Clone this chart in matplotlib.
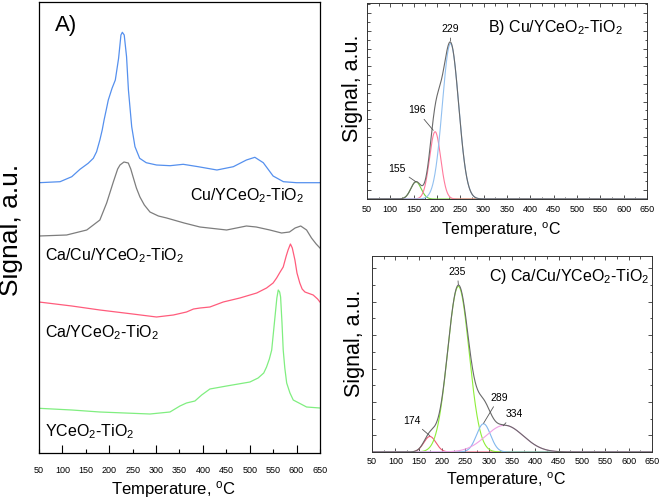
import numpy as np
import matplotlib
matplotlib.use('Agg')
import matplotlib.pyplot as plt
from matplotlib.ticker import MultipleLocator, FixedLocator, FormatStrFormatter

plt.rcParams['font.family'] = ['Liberation Sans', 'DejaVu Sans']
plt.rcParams['mathtext.fontset'] = 'custom'
plt.rcParams['mathtext.rm'] = 'Liberation Sans'
plt.rcParams['mathtext.it'] = 'Liberation Sans:italic'
plt.rcParams['mathtext.bf'] = 'Liberation Sans:bold'

# ---------------- Panel A data (stacked TPR profiles, offset a.u.) ----------------
temp_cu = [50, 95, 120, 137.5, 155, 166, 173, 180, 185, 189, 194, 198, 206, 213, 220,
           225, 228, 232, 237, 241, 248, 255, 265, 279, 301, 330, 358, 390, 430, 465,
           493, 511, 529, 550, 572, 600, 650]
sig_cu = [270.3, 271.3, 276.3, 283.7, 289.7, 294.7, 301.3, 313, 323, 333, 344, 353,
          364.7, 373, 394.7, 418, 420.7, 418, 396.3, 363, 326.3, 306.3, 294.7, 290.3,
          288, 287.3, 288.7, 286.3, 283, 286.3, 293, 295.7, 290.3, 277, 271.3, 270.3,
          270.3]

temp_cacu = [50, 109, 152, 180, 194.5, 208.7, 218, 223, 231.5, 240.7, 246, 251, 258,
             265.6, 275, 287, 305, 322.6, 360, 393.7, 450.7, 493, 514, 543, 568, 585,
             597, 609, 621.5, 632, 642, 650]
sig_cacu = [217, 218, 223, 233, 250, 271, 284, 288, 291, 290, 284, 276, 265, 256, 248,
            241, 237, 235, 230, 226, 223, 227, 226, 223, 220, 221, 225, 227, 223, 215,
            209, 205]

temp_ca = [50, 120, 180, 250, 301, 337, 365, 380, 394, 415, 443.5, 479, 515, 536, 550,
           557.5, 565, 571.6, 578, 582, 587, 591, 596.6, 601, 607, 612, 618, 635.6, 645, 650]
sig_ca = [151, 147, 143, 139, 136, 138, 141, 144, 145, 146, 151, 155, 160, 165, 170, 175,
          181, 186, 197, 203, 209, 205, 193, 180, 170, 164, 161, 158, 154, 151]

temp_y = [50, 120, 180, 287, 329.7, 351, 365, 383, 397.4, 415, 450.7, 500.5, 518, 530,
          536, 542, 547, 554, 558, 561, 564, 566, 569, 571.6, 575, 579, 586, 593, 621.5, 650]
sig_y = [44.7, 43, 41, 39, 41, 47, 50, 52, 58, 64, 67, 71, 75, 80, 86, 94, 103, 136, 155,
         163, 161, 156, 130, 103, 85, 70, 60, 53, 46, 45]

a_labels = ['Cu/YCeO$_2$-TiO$_2$', 'Ca/Cu/YCeO$_2$-TiO$_2$', 'Ca/YCeO$_2$-TiO$_2$',
            'YCeO$_2$-TiO$_2$']
a_colors = ['#5590ee', '#7d7d7d', '#ff5c7c', '#80ee80']

# ---------------- Panel B data (Gaussian deconvolution) ----------------
b_centers = [155, 196, 229]
b_heights = [0.97, 3.8, 8.78]
b_sigmas = [11, 12, 17.5]
b_colors = ['#74d040', '#ff7a9c', '#92c0f0']

# ---------------- Panel C data (Gaussian deconvolution) ----------------
c_centers = [174, 235, 289, 334]
c_heights = [0.93, 9.92, 1.69, 1.60]
c_sigmas = [13, 23, 15, 40]
c_colors = ['#ee5a78', '#8eee3a', '#82b8ee', '#f0a0e4']

temp_ticks = list(range(50, 651, 50))

fig = plt.figure(figsize=(6.61, 5.00), dpi=100)

# ---------------- Panel A ----------------
axA = fig.add_axes([0.059, 0.094, 0.425, 0.902])
for t, s, c in zip([temp_cu, temp_cacu, temp_ca, temp_y],
                   [sig_cu, sig_cacu, sig_ca, sig_y], a_colors):
    axA.plot(t, s, color=c, lw=0.9)
axA.set_xlim(50, 650)
axA.set_ylim(0, 451)
axA.set_yticks([])
axA.xaxis.set_major_locator(FixedLocator([t for t in temp_ticks if t % 100 == 0]))
axA.xaxis.set_minor_locator(FixedLocator([t for t in temp_ticks if t % 100 != 0]))
axA.xaxis.set_major_formatter(FormatStrFormatter('%d'))
axA.xaxis.set_minor_formatter(FormatStrFormatter('%d'))
axA.tick_params(axis='x', which='major', direction='in', length=6, width=0.8,
                labelsize=6.5, pad=9.5)
axA.tick_params(axis='x', which='minor', direction='in', length=3, width=0.8,
                labelsize=6.5, pad=9.5)
for sp in axA.spines.values():
    sp.set_linewidth(0.9)
axA.set_xlabel('Temperature, $^{\\mathrm{o}}$C', fontsize=12)
axA.xaxis.set_label_coords(0.479, -0.082)
axA.xaxis.label.set_va('center')
axA.set_ylabel('Signal, a.u.', fontsize=19)
axA.yaxis.set_label_coords(-0.10, 0.494)
axA.yaxis.label.set_va('center')
axA.text(108, 428, 'A)', fontsize=16, ha='center', va='center')
a_label_pos = [(372, 253), (62.8, 193), (62.8, 115.7), (62.8, 16.3)]
for (x, y), lab in zip(a_label_pos, a_labels):
    axA.text(x, y, lab, fontsize=11.5, ha='left', va='baseline')

# ---------------- helper for deconvolution panels ----------------
T = np.linspace(50, 650, 1201)


def gauss(c, h, s):
    return h * np.exp(-(T - c) ** 2 / (2 * s ** 2))


def style_small(ax, ymax, ymajor, yminor):
    ax.set_xlim(50, 650)
    ax.set_ylim(0, ymax)
    ax.xaxis.set_major_locator(FixedLocator(temp_ticks))
    ax.xaxis.set_minor_locator(MultipleLocator(25))
    ax.yaxis.set_major_locator(FixedLocator(ymajor))
    ax.yaxis.set_minor_locator(FixedLocator(yminor))
    ax.yaxis.set_major_formatter(plt.NullFormatter())
    ax.tick_params(which='both', direction='in', top=True, right=True, width=0.6,
                   color='#333333')
    ax.tick_params(which='major', length=3)
    ax.tick_params(which='minor', length=1.8)
    ax.tick_params(axis='x', labelsize=6.5)
    for sp in ax.spines.values():
        sp.set_linewidth(0.7)
        sp.set_color('#333333')


# ---------------- Panel B ----------------
axB = fig.add_axes([0.5552, 0.602, 0.4236, 0.392])
comps = [gauss(c, h, s) for c, h, s in zip(b_centers, b_heights, b_sigmas)]
for g, col in zip(comps, b_colors):
    axB.plot(T, g, color=col, lw=0.8)
axB.plot(T, np.sum(comps, axis=0), color='#6a6a6a', lw=0.8)
style_small(axB, 11.07, np.arange(0.5, 11, 1.0), np.arange(0.0, 11.07, 0.5))
axB.tick_params(axis='x', pad=4.5)
axB.set_xlabel('Temperature, $^{\\mathrm{o}}$C', fontsize=11.5)
axB.xaxis.set_label_coords(0.479, -0.158)
axB.xaxis.label.set_va('center')
axB.set_ylabel('Signal, a.u.', fontsize=15.5)
axB.yaxis.set_label_coords(-0.052, 0.566)
axB.yaxis.label.set_va('center')
axB.text(0.432, 0.854, 'B) Cu/YCeO$_2$-TiO$_2$', transform=axB.transAxes,
         fontsize=11.5, ha='left', va='baseline')
b_text_pos = [(113.6, 1.72), (156.5, 5.0), (228, 9.61)]
b_xy_dx = [0, -4, 0]
b_xy_dy = [0, 0.08, 0.15]
for c, h, (tx, ty), dx, dy in zip(b_centers, b_heights, b_text_pos, b_xy_dx, b_xy_dy):
    axB.annotate(str(c), xy=(c + dx, h + dy), xytext=(tx, ty), fontsize=7.5,
                 ha='center', va='center',
                 arrowprops=dict(arrowstyle='-', color='#555555', lw=0.6,
                                 shrinkA=1, shrinkB=0))

# ---------------- Panel C ----------------
axC = fig.add_axes([0.5628, 0.096, 0.4236, 0.392])
comps = [gauss(c, h, s) for c, h, s in zip(c_centers, c_heights, c_sigmas)]
for g, col in zip(comps, c_colors):
    axC.plot(T, g, color=col, lw=0.8)
axC.plot(T, np.sum(comps, axis=0), color='#6a6a6a', lw=0.8)
style_small(axC, 11.74, np.arange(1, 12, 2), np.arange(0, 11.74, 1))
axC.tick_params(axis='x', pad=3.4)
axC.set_xlabel('Temperature, $^{\\mathrm{o}}$C', fontsize=11.5)
axC.xaxis.set_label_coords(0.479, -0.143)
axC.xaxis.label.set_va('center')
axC.set_ylabel('Signal, a.u.', fontsize=15.5)
axC.yaxis.set_label_coords(-0.061, 0.554)
axC.yaxis.label.set_va('center')
axC.text(0.418, 0.874, 'C) Ca/Cu/YCeO$_2$-TiO$_2$', transform=axC.transAxes,
         fontsize=11.5, ha='left', va='baseline')
c_text_pos = [(136.4, 1.88), (232.8, 10.8), (322, 3.25), (354.3, 2.28)]
c_xy_dx = [0, 0, 0, -3]
c_xy_dy = [0.04, 0.1, 0.03, -0.03]
for c, h, (tx, ty), dx, dy in zip(c_centers, c_heights, c_text_pos, c_xy_dx, c_xy_dy):
    axC.annotate(str(c), xy=(c + dx, h + dy), xytext=(tx, ty), fontsize=7.5,
                 ha='center', va='center',
                 arrowprops=dict(arrowstyle='-', color='#555555', lw=0.6,
                                 shrinkA=1, shrinkB=0))

fig.savefig('out.png', dpi=100)
